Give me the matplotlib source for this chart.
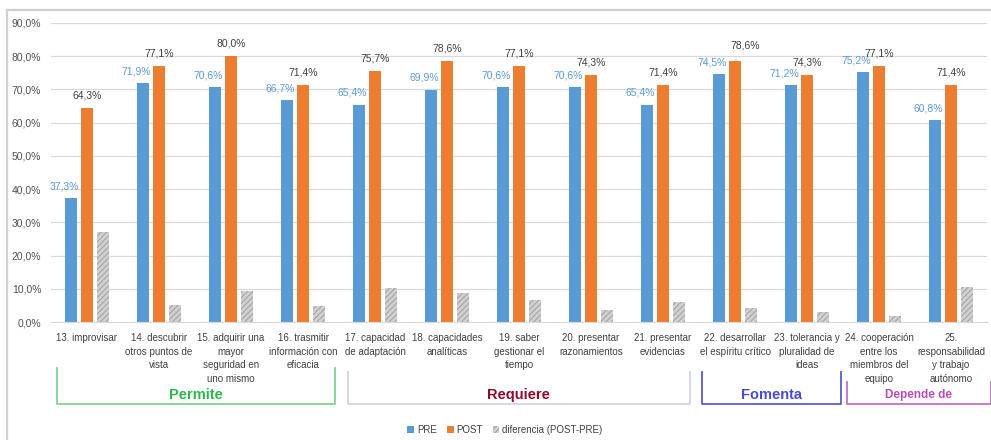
import matplotlib

matplotlib.use("Agg")
import matplotlib.pyplot as plt
import matplotlib.transforms as mtransforms
import numpy as np

plt.rcParams["font.family"] = ["Liberation Sans", "DejaVu Sans"]
plt.rcParams["hatch.linewidth"] = 0.7
plt.rcParams["hatch.color"] = "#A0A0A0"

# --- data -----------------------------------------------------------------
categories = [
    "13. improvisar",
    "14. descubrir\notros puntos de\nvista",
    "15. adquirir una\nmayor\nseguridad en\nuno mismo",
    "16. trasmitir\ninformación con\neficacia",
    "17. capacidad\nde adaptación",
    "18. capacidades\nanalíticas",
    "19. saber\ngestionar el\ntiempo",
    "20. presentar\nrazonamientos",
    "21. presentar\nevidencias",
    "22. desarrollar\nel espíritu crítico",
    "23. tolerancia y\npluralidad de\nideas",
    "24. cooperación\nentre los\nmiembros del\nequipo",
    "25.\nresponsabilidad\ny trabajo\nautónomo",
]
pre = [37.3, 71.9, 70.6, 66.7, 65.4, 69.9, 70.6, 70.6, 65.4, 74.5, 71.2, 75.2, 60.8]
post = [64.3, 77.1, 80.0, 71.4, 75.7, 78.6, 77.1, 74.3, 71.4, 78.6, 74.3, 77.1, 71.4]
diff = [27.0, 5.2, 9.4, 4.7, 10.3, 8.7, 6.5, 3.7, 6.0, 4.1, 3.1, 1.9, 10.6]

# group brackets: label, first cat, last cat
groups = ["Permite", "Requiere", "Fomenta", "Depende de"]
group_first = [0, 4, 9, 11]
group_last = [3, 8, 10, 12]

C_PRE = "#5B9BD5"
C_POST = "#ED7D31"
C_DIFF = "#D0D0D0"
group_text_colors = ["#2EB84B", "#8C0A2A", "#4A4AD8", "#B64DB8"]
group_box_colors = ["#7FD394", "#D8D1EA", "#5A5AD0", "#C271C4"]
group_font = [10.5, 10.5, 10.5, 8.5]
group_top = [-0.155, -0.168, -0.168, -0.2]
group_pad_l = [0.42, 0.38, 0.46, 0.44]
group_pad_r = [0.45, 0.37, 0.47, 0.55]


def pct(v):
    return f"{v:.1f}%".replace(".", ",")


fig = plt.figure(figsize=(9.91, 4.40), dpi=100)
ax = fig.add_axes([51 / 991, 1 - 322 / 440, 936 / 991, 299 / 440])

x = np.arange(len(categories))
w = 0.17
off = 0.22
ax.bar(x - off, pre, w, color=C_PRE, zorder=2, label="PRE")
ax.bar(x, post, w, color=C_POST, zorder=2, label="POST")
ax.bar(x + off, diff, w, color=C_DIFF, linewidth=0,
       hatch="//////", zorder=2, label="diferencia (POST-PRE)")

for i in range(len(categories)):
    ax.annotate(pct(pre[i]), (x[i] - off, pre[i]), xytext=(-5, 8.5),
                textcoords="offset points", ha="center", va="center",
                fontsize=7.5, color=C_PRE)
    if i == 9:
        ax.annotate(pct(post[i]), (x[i], post[i]), xytext=(7, 11),
                    textcoords="offset points", ha="center", va="center",
                    fontsize=7.5, color="#404040",
                    arrowprops=dict(arrowstyle="-", color="#A0A0A0", lw=0.6,
                                    shrinkA=5, shrinkB=1))
    else:
        ax.annotate(pct(post[i]), (x[i], post[i]), xytext=(0, 9),
                    textcoords="offset points", ha="center", va="center",
                    fontsize=7.5, color="#404040")

ax.set_ylim(0, 90)
ax.set_xlim(-0.5, len(categories) - 0.5)
ax.set_yticks(np.arange(0, 91, 10))
ax.set_yticklabels([pct(v) for v in np.arange(0, 91, 10)])
ax.set_xticks(x)
ax.set_xticklabels(categories, fontsize=7, color="#404040", linespacing=1.45,
                   va="top")
ax.tick_params(axis="y", labelsize=7.5, colors="#505050", length=0, pad=7)
ax.tick_params(axis="x", length=0, pad=8)
ax.grid(axis="y", color="#D9D9D9", linewidth=0.9, zorder=0)
ax.set_axisbelow(True)
for s in ("top", "right", "left"):
    ax.spines[s].set_visible(False)
ax.spines["bottom"].set_color("#D9D9D9")

# group brackets below tick labels
trans = mtransforms.blended_transform_factory(ax.transData, ax.transAxes)
bottom = -0.274
for g in range(len(groups)):
    x0 = group_first[g] - group_pad_l[g]
    x1 = group_last[g] + group_pad_r[g]
    top = group_top[g]
    ax.plot([x0, x0, x1, x1], [top, bottom, bottom, top], transform=trans,
            color=group_box_colors[g], lw=1.3, clip_on=False)
    ax.text((x0 + x1) / 2, -0.244, groups[g], transform=trans, ha="center",
            va="center", fontsize=group_font[g], fontweight="bold",
            color=group_text_colors[g])

# chart-area border (partially visible in the source)
fig.add_artist(plt.Line2D([7 / 991, 1], [1 - 10 / 440, 1 - 10 / 440],
                          transform=fig.transFigure, color="#D0D0D0", lw=1.6))
fig.add_artist(plt.Line2D([7 / 991, 7 / 991], [0, 1 - 10 / 440],
                          transform=fig.transFigure, color="#D0D0D0", lw=1.6))

fig.legend(loc="center", bbox_to_anchor=(505 / 991, 1 - 430 / 440), ncol=3,
           frameon=False, fontsize=7, handlelength=0.7, handleheight=0.7,
           handletextpad=0.3, columnspacing=1.0, labelcolor="#404040")

fig.savefig("out.png", dpi=100, facecolor="white")
